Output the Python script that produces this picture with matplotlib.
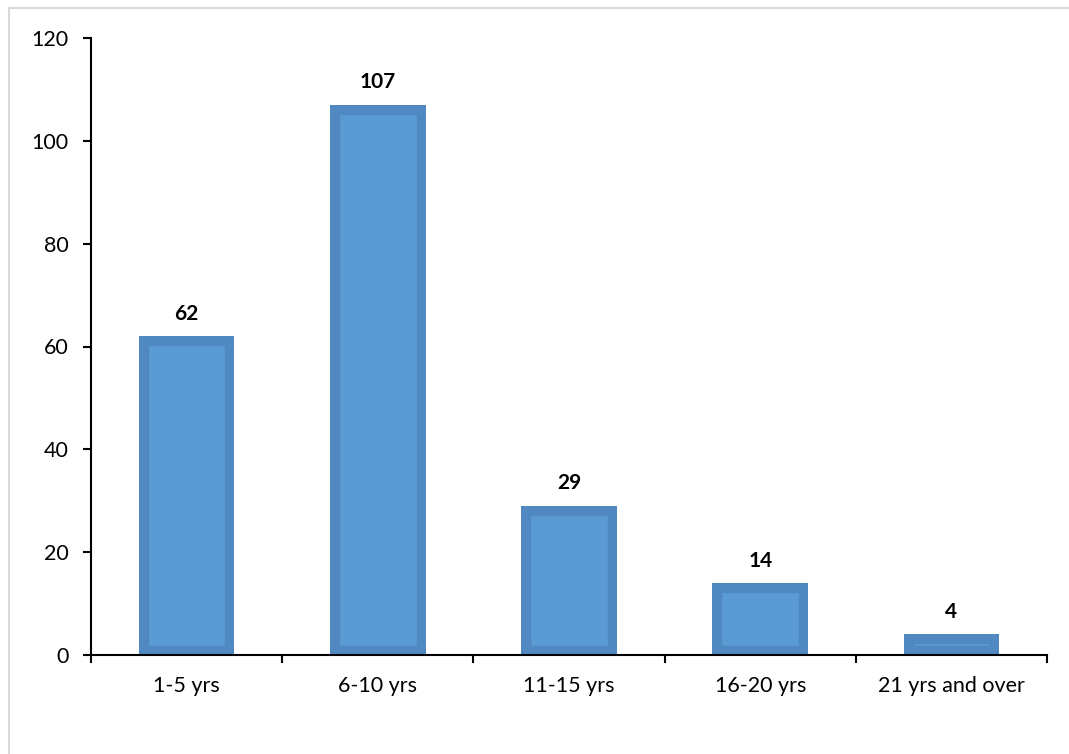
import matplotlib.pyplot as plt
from matplotlib.patches import Rectangle

categories = ["1-5 yrs", "6-10 yrs", "11-15 yrs", "16-20 yrs", "21 yrs and over"]
counts = [62, 107, 29, 14, 4]
yticks = [0, 20, 40, 60, 80, 100, 120]

plt.rcParams['font.family'] = ['Lato', 'DejaVu Sans']

fig = plt.figure(figsize=(10.69, 7.54), dpi=100)
ax = fig.add_axes([91 / 1069, 1 - 655 / 754, (1047 - 91) / 1069, (655 - 38) / 754])

# light grey frame round the chart area
fig.patches.append(Rectangle((9 / 1069, -0.01), 1.2, 1 - 8 / 754 + 0.01,
                             transform=fig.transFigure, fill=False,
                             edgecolor='#d9d9d9', linewidth=1.5))

x = range(len(categories))
bars = ax.bar(x, counts, width=0.5, color='#5b9bd5', edgecolor='#5089c2', linewidth=14)
for b in bars:
    b.set_clip_path(b)  # keeps the border inside the bar

for xi, v in zip(x, counts):
    ax.annotate(str(v), (xi, v), xytext=(0, 9), textcoords='offset points',
                ha='center', va='bottom', fontsize=15, fontweight='bold')

ax.set_xlim(-0.5, len(categories) - 0.5)
ax.set_ylim(0, 120)
ax.set_yticks(yticks)
ax.set_xticks(x)
ax.set_xticklabels(categories)
ax.set_xticks([i - 0.5 for i in range(len(categories) + 1)], minor=True)
ax.tick_params(axis='x', which='major', length=0, pad=15, labelsize=15.5)
ax.tick_params(axis='x', which='minor', length=6, width=1.5, direction='out')
ax.tick_params(axis='y', length=6, width=1.5, pad=10, labelsize=15.5)

for s in ['top', 'right']:
    ax.spines[s].set_visible(False)
for s in ['left', 'bottom']:
    ax.spines[s].set_linewidth(1.5)

fig.savefig('out.png', dpi=100)
